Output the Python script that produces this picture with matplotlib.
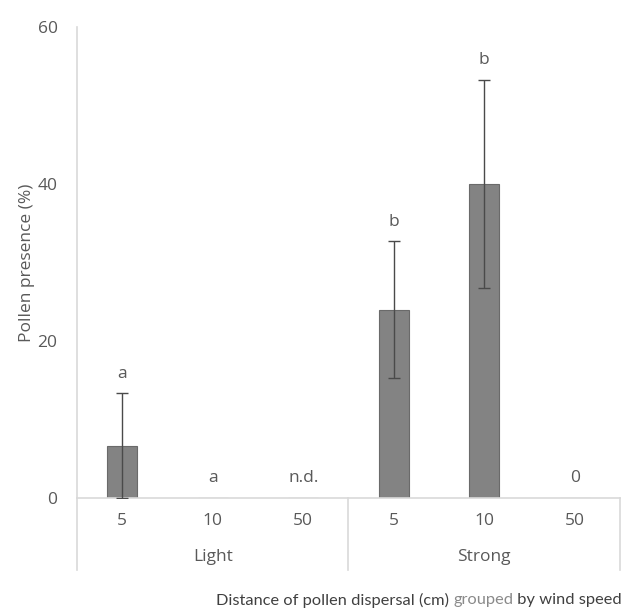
import matplotlib
matplotlib.use("Agg")
import matplotlib.pyplot as plt
import matplotlib.transforms as mtransforms

plt.rcParams["font.family"] = ["Open Sans", "DejaVu Sans"]

# ── Dados ────────────────────────────────────────────────────────────────
distancias = ["5", "10", "50", "5", "10", "50"]
grupos     = ["Light", "Strong"]
presenca   = [6.67, 0, 0, 24.0, 40.0, 0]
erro       = [6.67, 0, 0, 8.7, 13.3, 0]
letras     = ["a", "a", "n.d.", "b", "b", "0"]

CINZA_TXT = "#595959"
CINZA_LIN = "#d9d9d9"

fig = plt.figure(figsize=(6.27, 6.08), dpi=100)
ax = fig.add_axes([77 / 627, 1 - 498 / 608, 543 / 627, 471 / 608])

x = list(range(len(presenca)))
ax.bar(x, presenca, width=0.33, color="#838383", edgecolor="#6a6a6a", linewidth=0.8, zorder=2)

# barras de erro só onde há valor
for xi, v, e in zip(x, presenca, erro):
    if e > 0:
        ax.errorbar(xi, v, yerr=e, fmt="none", ecolor="#4a4a4a", elinewidth=1.0,
                    capsize=4, capthick=1.0, zorder=3)

# letras de significância
for xi, v, e, l in zip(x, presenca, erro, letras):
    ax.text(xi, v + e + 1.5, l, ha="center", va="bottom", fontsize=12.5, color=CINZA_TXT)

ax.set_xlim(-0.5, 5.5)
ax.set_ylim(0, 60)
ax.set_yticks([0, 20, 40, 60])
ax.tick_params(axis="y", length=0, labelsize=12.5, labelcolor=CINZA_TXT, pad=14)
ax.set_xticks(x)
ax.set_xticklabels(distancias)
ax.tick_params(axis="x", length=0, labelsize=12.5, labelcolor=CINZA_TXT, pad=11)

for s in ["top", "right"]:
    ax.spines[s].set_visible(False)
ax.spines["left"].set_color(CINZA_LIN)
ax.spines["bottom"].set_color(CINZA_LIN)
ax.spines["left"].set_linewidth(1.2)
ax.spines["bottom"].set_linewidth(1.2)

# separadores de grupo e rótulos Light / Strong
trans = mtransforms.blended_transform_factory(ax.transData, ax.transAxes)
for xs in [-0.5, 2.5, 5.5]:
    ax.plot([xs, xs], [0, -72 / 471], color=CINZA_LIN, linewidth=1.2,
            transform=trans, clip_on=False)
for i, g in enumerate(grupos):
    ax.text(1 + 3 * i, -59 / 471, g, transform=trans, ha="center", va="center",
            fontsize=12.5, color=CINZA_TXT)

ax.set_ylabel("Pollen presence (%)", fontsize=12.5, color=CINZA_TXT, labelpad=2)

# título do eixo x com "grouped" em cinza claro, alinhado à direita
partes = [("Distance of pollen dispersal (cm) ", "#404040"),
          ("grouped", "#8a8a8a"),
          (" by wind speed", "#404040")]
ytit = 1 - 600 / 608
xdir = 622 / 627
for txt, cor in reversed(partes):
    t = fig.text(xdir, ytit, txt, ha="right", va="center", fontsize=11.8, color=cor,
                 family=["Lato", "DejaVu Sans"])
    fig.canvas.draw()
    xdir = t.get_window_extent().x0 / fig.bbox.width

fig.savefig("out.png", dpi=100)
